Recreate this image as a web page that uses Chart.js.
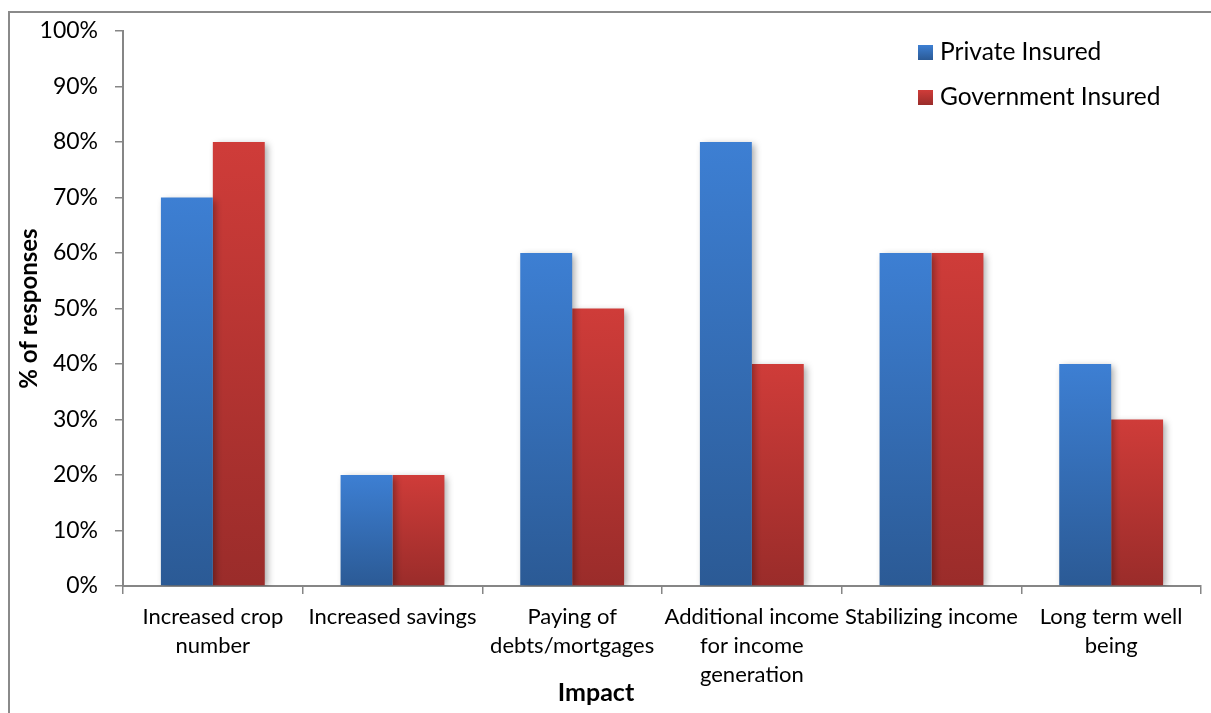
<!DOCTYPE html>
<html>
<head>
<meta charset="utf-8">
<script src="https://cdn.jsdelivr.net/npm/chart.js@4.4.1/dist/chart.umd.min.js"></script>
<style>
  html, body { margin: 0; padding: 0; background: #fff; overflow: hidden; }
  #wrap { position: relative; width: 1211px; height: 713px; }
  #frame { position: absolute; left: 8px; top: 11px; width: 1400px; height: 900px;
           border-left: 2px solid #8a8a8a; border-top: 2px solid #8a8a8a; box-sizing: border-box; }
  canvas { position: absolute; left: 0; top: 0; }
</style>
</head>
<body>
<div id="wrap">
  <div id="frame"></div>
  <canvas id="c" width="1211" height="713"></canvas>
</div>
<script>
// Impact categories (multi-line labels as drawn under the axis)
const categories = [
  ["Increased crop", "number"],
  ["Increased savings"],
  ["Paying of", "debts/mortgages"],
  ["Additional income", "for income", "generation"],
  ["Stabilizing income"],
  ["Long term well", "being"]
];
// Share of responses, percent
const privateInsured    = [70, 20, 60, 80, 60, 40];
const governmentInsured = [80, 20, 50, 40, 60, 30];
const seriesNames = ["Private Insured", "Government Insured"];

const FONT = "Lato, 'Open Sans', sans-serif";
const AXIS_GREY = "#868686";

// top / bottom gradient stops for each series
const blueStops = ["#3d7fd3", "#2b5a95"];
const redStops  = ["#cf3c39", "#9a2c2a"];

function barGradient(ctx, stops, seriesData) {
  const chart = ctx.chart;
  const area = chart.chartArea;
  if (!area || ctx.dataIndex === undefined) return stops[0];
  const y = chart.scales.y;
  const top = y.getPixelForValue(seriesData[ctx.dataIndex]);
  const base = y.getPixelForValue(0);
  const g = chart.ctx.createLinearGradient(0, top, 0, base);
  g.addColorStop(0, stops[0]);
  g.addColorStop(1, stops[1]);
  return g;
}

// soft drop shadow under the bars
const barShadow = {
  id: 'barShadow',
  beforeDatasetsDraw(chart) {
    const c = chart.ctx;
    c.save();
    c.shadowColor = 'rgba(0,0,0,0.35)';
    c.shadowBlur = 7;
    c.shadowOffsetX = 3;
    c.shadowOffsetY = 2;
  },
  afterDatasetsDraw(chart) { chart.ctx.restore(); }
};

// legend in the top-right corner and the category axis title
const extras = {
  id: 'extras',
  afterDraw(chart) {
    const c = chart.ctx;
    c.save();
    const rows = [
      { name: seriesNames[0], stops: blueStops, y: 45 },
      { name: seriesNames[1], stops: redStops,  y: 90 }
    ];
    rows.forEach(r => {
      const g = c.createLinearGradient(0, r.y, 0, r.y + 15);
      g.addColorStop(0, r.stops[0]);
      g.addColorStop(1, r.stops[1]);
      c.fillStyle = g;
      c.fillRect(918, r.y, 15, 15);
      c.fillStyle = '#000';
      c.font = `24.5px ${FONT}`;
      c.textAlign = 'left';
      c.textBaseline = 'middle';
      c.fillText(r.name, 940, r.y + 7.5);
    });
    c.font = `bold 25px ${FONT}`;
    c.textAlign = 'center';
    c.textBaseline = 'middle';
    c.fillStyle = '#000';
    c.fillText('Impact', 596, 693);
    c.restore();
  }
};

new Chart(document.getElementById('c'), {
  type: 'bar',
  data: {
    labels: categories,
    datasets: [
      {
        label: seriesNames[0],
        data: privateInsured,
        backgroundColor: ctx => barGradient(ctx, blueStops, privateInsured),
        borderWidth: 0
      },
      {
        label: seriesNames[1],
        data: governmentInsured,
        backgroundColor: ctx => barGradient(ctx, redStops, governmentInsured),
        borderWidth: 0
      }
    ]
  },
  options: {
    responsive: false,
    animation: false,
    devicePixelRatio: 1,
    layout: { padding: { top: 31, right: 10, left: 0, bottom: 0 } },
    datasets: { bar: { barPercentage: 1, categoryPercentage: 0.578 } },
    plugins: { legend: { display: false }, tooltip: { enabled: false } },
    scales: {
      x: {
        offset: true,
        grid: { drawOnChartArea: false, drawTicks: true, tickLength: 8, color: AXIS_GREY, offset: true, lineWidth: 1.5 },
        border: { color: AXIS_GREY, width: 2 },
        ticks: {
          autoSkip: false, maxRotation: 0, minRotation: 0, padding: 8,
          color: '#000', font: { family: FONT, size: 22, lineHeight: 1.32 }
        },
        afterFit(scale) { scale.height = 127; }
      },
      y: {
        min: 0, max: 100,
        grid: { drawOnChartArea: false, drawTicks: true, tickLength: 8, color: AXIS_GREY, lineWidth: 1.5 },
        border: { color: AXIS_GREY, width: 2 },
        ticks: {
          stepSize: 10, padding: 17, color: '#000',
          font: { family: FONT, size: 23 },
          callback: v => v + '%'
        },
        title: {
          display: true, text: '% of responses', color: '#000',
          font: { family: FONT, size: 24, weight: 'bold' },
          padding: { top: 15, bottom: 0 }
        },
        afterFit(scale) { scale.width = 123; }
      }
    }
  },
  plugins: [barShadow, extras]
});
</script>
</body>
</html>
